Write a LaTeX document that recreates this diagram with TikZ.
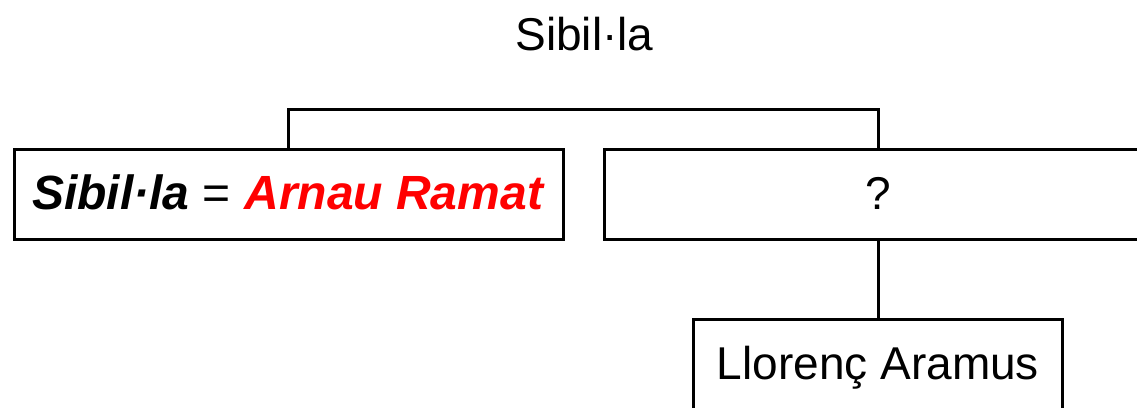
\documentclass[tikz,border=0pt]{standalone}
\usepackage{fontspec}
\setmainfont{Liberation Sans}
\definecolor{pedred}{RGB}{255,0,0}
\begin{document}
\begin{tikzpicture}[x=1pt,y=-1pt,
  every node/.style={font=\fontsize{46}{52}\selectfont},
  pbox/.style={draw=black, line width=3pt, inner sep=0pt, outer sep=0pt,
    minimum height=90pt, text height=30pt, text depth=0pt, fill=white},
  link/.style={draw=black, line width=3pt, line cap=rect}]
\useasboundingbox (0,0) rectangle (1137,407);
\clip (0,0) rectangle (1137,407);
\node[anchor=base, inner sep=0pt] (title) at (584.5,50) {Sibil·la};
\node[pbox, minimum width=549pt, font=\fontsize{48}{52}\selectfont] (L) at (288.5,194) {\textbf{\textit{Sibil·la}} = \textcolor{pedred}{\textbf{\textit{Arnau Ramat}}}};
\node[pbox, minimum width=548pt] (R) at (878,194) {?};
\node[pbox, minimum width=369pt] (D) at (878,364) {Llorenç Aramus};
\coordinate (bar) at (583,109);
\draw[link] (L.north) |- (bar) -| (R.north);
\draw[link] (R.south) -- (D.north);
\end{tikzpicture}
\end{document}
